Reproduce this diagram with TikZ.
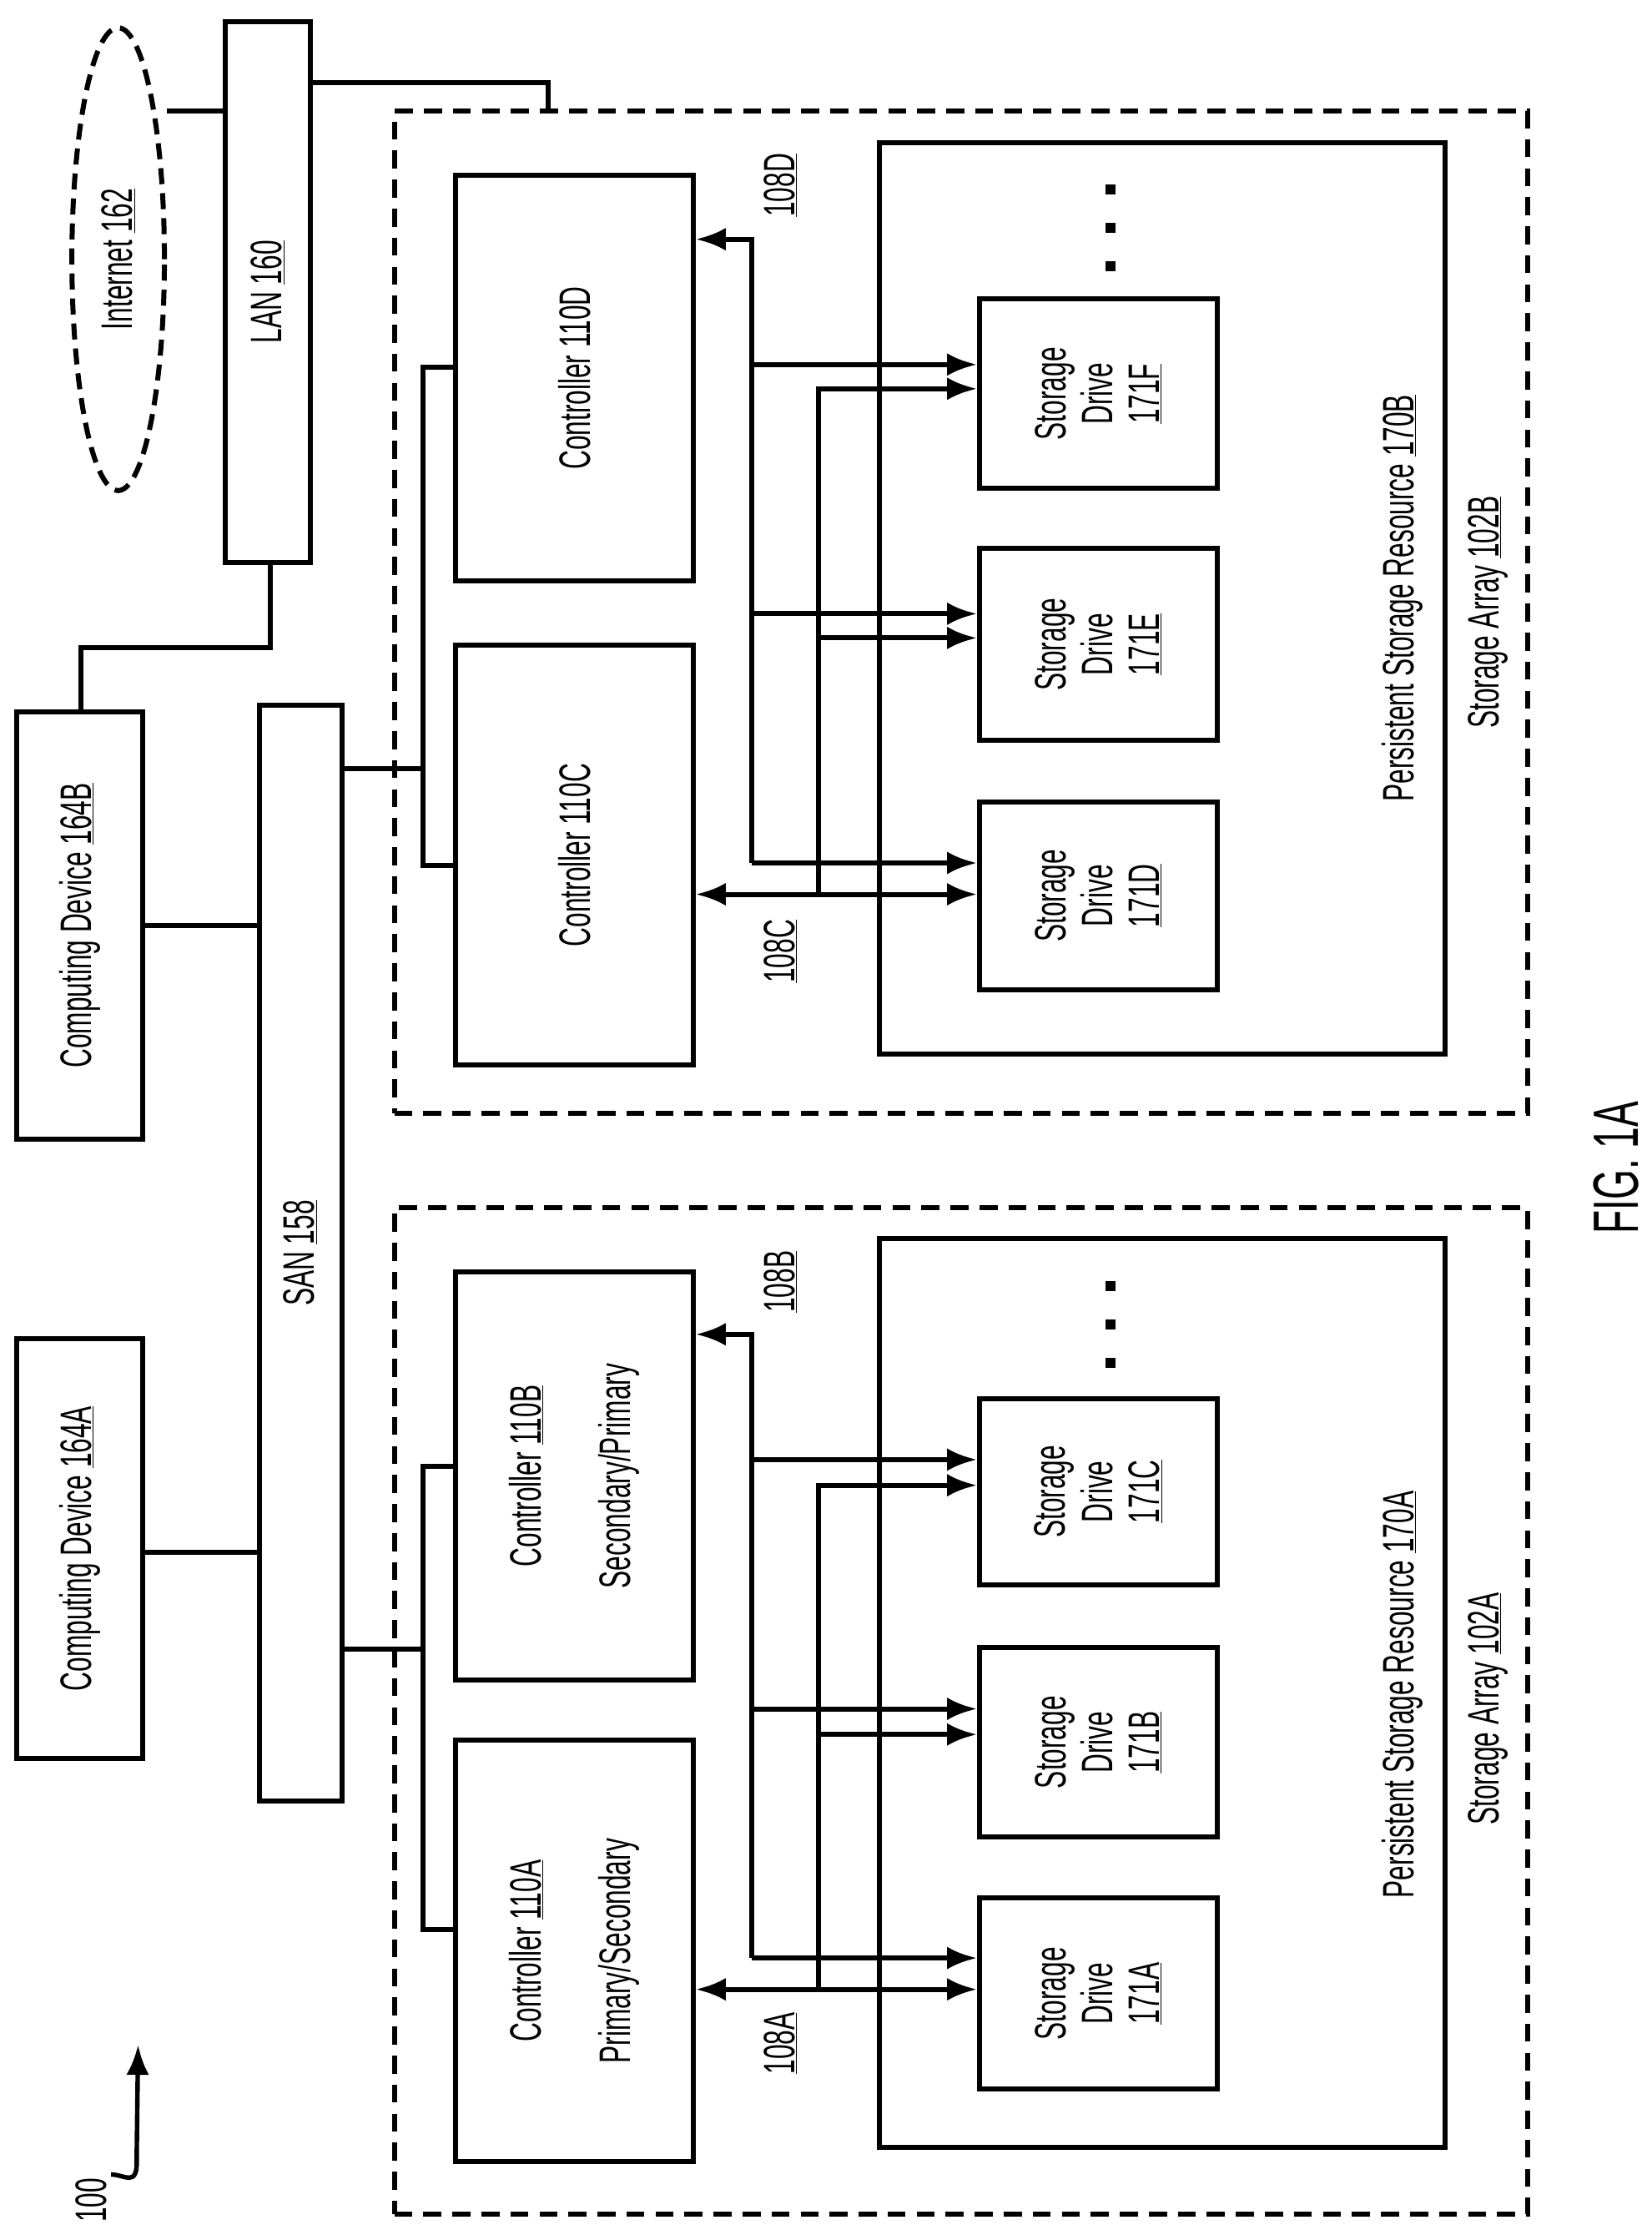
\documentclass[tikz,border=0pt]{standalone}
\usepackage{fontspec}
\setmainfont{Liberation Sans}[FakeStretch=0.6]
\usetikzlibrary{shapes.geometric,fit,arrows.meta}
\begin{document}
\begin{tikzpicture}[x=0.05cm,y=-0.05cm,line width=5pt,
  box/.style={draw,inner sep=0pt,fit={#1}},
  dbox/.style={draw,inner sep=0pt,fit={#1},dash pattern=on 18pt off 11pt},
  txt/.style={rotate=90,align=center,font=\fontsize{44}{47}\selectfont,inner sep=0},
  arr/.style={-{Latex[length=1.05cm,width=0.8cm]}},
  darr/.style={{Latex[length=1.05cm,width=0.8cm]}-{Latex[length=1.05cm,width=0.8cm]}},
  dot/.style={fill,minimum size=0.35cm,inner sep=0}]
\useasboundingbox (0,0) rectangle (1160,1566);
% Internet, LAN
\node[ellipse,draw,dash pattern=on 16pt off 9pt,minimum width=3.25cm,minimum height=16.25cm,inner sep=0] (inet) at (83,182) {};
\node[txt] (tinet) at (inet.center) {Internet \underline{162}};
\node[box={(158,15)(218,395)}] (lan) {};
\node[txt] (tlan) at (lan.center) {LAN \underline{160}};
\node[box={(12,500)(100,800)}] (cdb) {};
\node[txt] (tcdb) at (cdb.center) {Computing Device \underline{164B}};
\node[box={(12,940)(100,1235)}] (cda) {};
\node[txt] (tcda) at (cda.center) {Computing Device \underline{164A}};
\node[box={(182,495)(240,1265)}] (san) {};
\node[txt] (tsan) at (san.center) {SAN \underline{158}};
% arrays
\node[dbox={(277,78)(1073,782)}] (sab) {};
\node[txt] (tsab) at (1045,430) {Storage Array \underline{102B}};
\node[dbox={(277,848)(1073,1555)}] (saa) {};
\node[txt] (tsaa) at (1045,1200) {Storage Array \underline{102A}};
\node[box={(618,100)(1015,740)}] (psb) {};
\node[txt] (tpsb) at (985,420) {Persistent Storage Resource \underline{170B}};
\node[box={(618,870)(1015,1508)}] (psa) {};
\node[txt] (tpsa) at (985,1190) {Persistent Storage Resource \underline{170A}};
% controllers
\node[box={(320,123)(487,408)}] (c110D) {};
\node[txt] at (c110D.center) {Controller 110D};
\node[box={(320,453)(487,748)}] (c110C) {};
\node[txt] at (c110C.center) {Controller 110C};
\node[box={(320,893)(487,1180)}] (c110B) {};
\node[txt] at (c110B.center) {Controller \underline{110B}\\[1.5cm]Secondary/Primary};
\node[box={(320,1222)(487,1518)}] (c110A) {};
\node[txt] at (c110A.center) {Controller \underline{110A}\\[1.5cm]Primary/Secondary};
% drives
\node[box={(688,210)(855,343)}] (d171F) {};
\node[txt] at (d171F.center) {Storage\\Drive\\\underline{171F}};
\node[box={(688,385)(855,520)}] (d171E) {};
\node[txt] at (d171E.center) {Storage\\Drive\\\underline{171E}};
\node[box={(688,563)(855,695)}] (d171D) {};
\node[txt] at (d171D.center) {Storage\\Drive\\\underline{171D}};
\node[box={(688,982)(855,1113)}] (d171C) {};
\node[txt] at (d171C.center) {Storage\\Drive\\\underline{171C}};
\node[box={(688,1157)(855,1290)}] (d171B) {};
\node[txt] at (d171B.center) {Storage\\Drive\\\underline{171B}};
\node[box={(688,1333)(855,1467)}] (d171A) {};
\node[txt] at (d171A.center) {Storage\\Drive\\\underline{171A}};
% dots
\foreach \y [count=\i] in {133,160,187} {\node[dot] (db\i) at (780,\y) {};}
\foreach \y [count=\i] in {903,930,957} {\node[dot] (da\i) at (780,\y) {};}
% network lines
\draw (inet.east |- 0,78) -- (lan.west |- 0,78);
\draw (lan.east |- 0,58) -- (385,58) -- (sab.north -| 385,0);
\draw (lan.south -| 190,0) -- (190,455) -- (57,455) -- (cdb.north -| 57,0);
\draw (cdb.east |- 0,650) -- (san.west |- 0,650);
\draw (cda.east |- 0,1090) -- (san.west |- 0,1090);
\draw (san.east |- 0,540) -- (297,540);
\draw (c110D.west |- 0,258) -- (297,258) -- (297,608) -- (c110C.west |- 0,608);
\draw (san.east |- 0,1158) -- (297,1158);
\draw (c110B.west |- 0,1030) -- (297,1030) -- (297,1355) -- (c110A.west |- 0,1355);
% 102B buses
\draw[arr] (528,606) -- (528,168) -- (c110D.east |- 0,168);
\draw[arr] (528,256) -- (d171F.west |- 0,256);
\draw[arr] (528,431) -- (d171E.west |- 0,431);
\draw[arr] (528,606) -- (d171D.west |- 0,606);
\draw[darr] (c110C.east |- 0,628) -- (d171D.west |- 0,628);
\draw[arr] (575,628) -- (575,273) -- (d171F.west |- 0,273);
\draw[arr] (575,448) -- (d171E.west |- 0,448);
% 102A buses
\draw[arr] (528,1375) -- (528,937) -- (c110B.east |- 0,937);
\draw[arr] (528,1025) -- (d171C.west |- 0,1025);
\draw[arr] (528,1200) -- (d171B.west |- 0,1200);
\draw[arr] (528,1375) -- (d171A.west |- 0,1375);
\draw[darr] (c110A.east |- 0,1397) -- (d171A.west |- 0,1397);
\draw[arr] (575,1397) -- (575,1043) -- (d171C.west |- 0,1043);
\draw[arr] (575,1218) -- (d171B.west |- 0,1218);
% bus labels
\node[txt] (l108D) at (548,130) {\underline{108D}};
\node[txt] (l108C) at (548,668) {\underline{108C}};
\node[txt] (l108B) at (548,900) {\underline{108B}};
\node[txt] (l108A) at (548,1435) {\underline{108A}};
% ref 100
\node[txt] (l100) at (64,1545) {100};
\coordinate (s0) at (78,1527);
\coordinate (s1) at (97,1436);
\draw[line width=4.5pt,arr] (s0) .. controls (88,1527) and (97,1537) .. (96,1515) -- (s1);
\node[rotate=90,font=\fontsize{64}{66}\selectfont] (fig) at (1135,820) {FIG. 1A};
\end{tikzpicture}
\end{document}
